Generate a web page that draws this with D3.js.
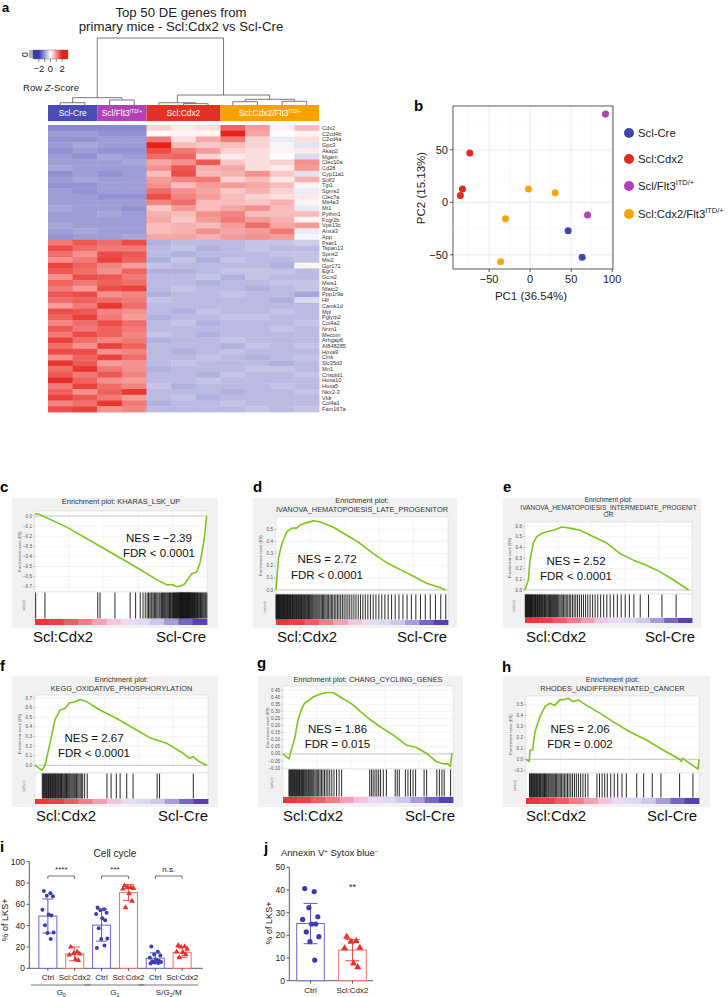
<!DOCTYPE html>
<html><head><meta charset="utf-8">
<script src="https://cdn.jsdelivr.net/npm/d3@7"></script>
<style>
body{margin:0;background:#fff}
svg{display:block}
text{font-family:"Liberation Sans",Arial,Helvetica,sans-serif}
</style></head>
<body><svg id="fig" width="728" height="997"></svg>
<script>
// ================= DATA =================
// Panel a: heatmap
const genes = ["Cdx2","C2cd4b","C2cd4a","Gpc3","Akap2","Mgam","Clec10a","Cd28","Cyp11a1","Sulf2","Tjp1","Sgms2","Clec7a","Ms4a3","Mt1","Pythin1","Fcgr2b","Vps13c","Anxa3","App","Pear1","Tspan13","Spns2","Msi2","Gpr171","Egr1","Gcnt2","Meis1","Nfatc2","Ppp1r9a","Hlf","Camk1d","Mpl","Pglyrp2","Col4a2","Nrxn1","Mecom","Arhgap6","AI848285","Hoxa9","Clnk","Slc35d3","Mn1","Crispld1","Hoxa10","Hoxa5","Nkx2-3","Vldr","Col4a1","Fam167a"];
const groupNames = ["Scl-Cre","Scl/Flt3","Scl:Cdx2","Scl:Cdx2/Flt3"];
const groupSups = ["","ITD/+","","ITD/+"];
const groupSizes = [2,2,3,4];
const heatZ = [
[-1.2,-1.2,-1.2,-1.2,0.4,0.2,0.3,1.4,0.9,0.1,0.6],
[-1.0,-1.0,-1.1,-1.1,0.0,0.1,0.1,2.2,0.8,0.0,0.1],
[-1.1,-1.1,-1.0,-1.0,1.2,0.3,0.8,1.2,0.4,-0.2,0.3],
[-1.0,-0.9,-1.0,-1.0,2.0,0.6,0.5,0.6,0.4,-0.1,-0.3],
[-1.1,-1.0,-1.1,-1.1,1.6,1.2,0.9,0.4,0.3,0.1,0.2],
[-1.0,-1.1,-0.9,-1.0,1.3,1.4,0.4,0.2,0.3,0.0,-0.4],
[-1.0,-1.0,-1.0,-0.9,0.8,1.0,1.5,0.5,0.3,0.4,1.0],
[-0.9,-1.0,-1.0,-1.0,1.0,1.5,0.7,0.8,0.3,0.2,0.9],
[-1.1,-1.0,-1.1,-1.0,0.6,1.6,0.6,0.7,1.0,0.5,-0.3],
[-1.0,-0.9,-1.0,-1.0,0.9,1.1,1.2,0.4,0.6,0.2,0.7],
[-1.1,-1.1,-1.0,-1.0,1.0,0.6,0.9,0.9,0.8,0.6,0.1],
[-1.0,-1.1,-1.0,-1.0,1.3,1.0,0.8,0.5,0.7,0.4,-0.2],
[-1.0,-1.0,-1.1,-1.1,1.6,1.1,0.9,0.6,0.4,0.3,0.2],
[-1.0,-1.0,-1.0,-1.0,1.1,1.3,0.6,0.6,0.5,0.7,0.1],
[-0.9,-1.0,-1.0,-1.1,0.5,0.9,0.6,0.8,1.0,0.6,-0.2],
[-1.0,-1.0,-0.9,-1.0,0.7,0.6,1.0,1.1,0.6,0.6,0.6],
[-1.0,-1.0,-1.0,-1.0,0.8,0.5,0.9,1.2,0.9,0.7,0.1],
[-0.9,-1.0,-1.0,-1.0,0.6,0.7,0.6,0.9,1.3,0.8,0.9],
[-1.0,-0.9,-1.0,-1.0,0.6,0.7,1.0,0.8,0.9,1.2,-0.2],
[-1.1,-1.0,-1.0,-0.9,0.8,0.8,0.7,0.9,1.0,0.9,-0.1],
[1.2,1.5,1.3,1.6,-0.8,-0.7,-0.7,-0.7,-0.6,-0.6,-0.5],
[1.6,1.3,1.2,1.2,-0.7,-0.6,-0.8,-0.7,-0.6,-0.7,-0.7],
[1.3,1.0,1.6,1.5,-0.7,-0.8,-0.7,-0.7,-0.7,-0.6,-0.6],
[1.0,1.2,1.7,1.4,-0.8,-0.6,-0.8,-0.6,-0.7,-0.7,-0.6],
[1.7,1.4,1.1,0.9,-0.6,-0.7,-0.7,-0.7,-0.7,-0.8,0.1],
[1.5,1.3,1.0,1.4,-0.8,-0.8,-0.7,-0.6,-0.6,-0.6,-0.7],
[1.0,1.6,1.5,1.2,-0.7,-0.7,-0.6,-0.8,-0.6,-0.7,-0.7],
[1.4,1.2,1.4,1.3,-0.7,-0.7,-0.8,-0.7,-0.7,-0.6,-0.6],
[1.2,0.9,1.6,1.7,-0.7,-0.6,-0.7,-0.7,-0.8,-0.7,-0.6],
[1.5,1.6,1.0,1.1,-0.8,-0.7,-0.7,-0.6,-0.7,-0.7,-0.9],
[1.3,1.4,1.3,1.2,-0.6,-0.7,-0.7,-0.7,-0.7,-0.8,-0.4],
[0.9,1.2,1.8,1.3,-0.7,-0.7,-0.7,-0.7,-0.7,-0.7,-0.7],
[1.6,1.5,1.1,1.0,-0.7,-0.8,-0.6,-0.7,-0.7,-0.6,-0.7],
[1.4,1.7,1.2,0.9,-0.8,-0.7,-0.7,-0.6,-0.6,-0.7,-0.7],
[1.1,1.3,1.6,1.3,-0.7,-0.6,-0.8,-0.7,-0.7,-0.7,-0.6],
[1.5,1.2,1.4,1.2,-0.7,-0.7,-0.7,-0.7,-0.7,-0.6,-0.7],
[1.2,1.6,1.4,1.1,-0.6,-0.7,-0.8,-0.7,-0.7,-0.7,-0.7],
[1.7,1.3,1.1,1.2,-0.8,-0.7,-0.7,-0.6,-0.7,-0.7,-0.7],
[1.3,1.0,1.7,1.4,-0.7,-0.7,-0.7,-0.8,-0.6,-0.7,-0.6],
[1.6,1.6,1.0,1.1,-0.7,-0.8,-0.7,-0.6,-0.7,-0.7,-0.7],
[1.0,1.4,1.7,1.3,-0.7,-0.7,-0.6,-0.7,-0.8,-0.7,-0.6],
[1.8,1.5,0.9,1.0,-0.7,-0.6,-0.7,-0.7,-0.7,-0.8,-0.7],
[1.3,1.8,1.2,1.0,-0.8,-0.7,-0.7,-0.7,-0.6,-0.6,-0.7],
[1.5,1.2,1.5,1.1,-0.7,-0.7,-0.8,-0.6,-0.7,-0.7,-0.6],
[1.9,1.4,1.0,0.9,-0.7,-0.7,-0.6,-0.7,-0.7,-0.7,-0.7],
[1.2,1.7,1.3,1.1,-0.6,-0.8,-0.7,-0.7,-0.7,-0.6,-0.7],
[1.4,1.0,1.4,1.8,-0.7,-0.7,-0.7,-0.8,-0.7,-0.7,-0.6],
[1.7,1.5,1.2,0.9,-0.7,-0.6,-0.8,-0.7,-0.7,-0.7,-0.7],
[1.1,1.3,1.8,1.2,-0.8,-0.7,-0.7,-0.6,-0.7,-0.7,-0.7],
[1.6,1.7,1.0,1.1,-0.7,-0.7,-0.7,-0.7,-0.6,-0.7,-0.6]];
// column dendrogram (merge heights, 0..1)
const dendroTree = {h:1.0, children:[
  {h:0.109, children:[{h:0.034, children:[{leaf:0},{leaf:1}]},{h:0.075, children:[{leaf:2},{leaf:3}]}]},
  {h:0.149, children:[
    {h:0.034, children:[{leaf:4},{h:0.02, children:[{leaf:5},{leaf:6}]}]},
    {h:0.085, children:[{h:0.05, children:[{leaf:7},{leaf:8}]},{h:0.055, children:[{leaf:9},{leaf:10}]}]}]}]};
const keyTicks = [-2,0,2];

// Panel b: PCA
const pcaGroups = ["Scl-Cre","Scl:Cdx2","Scl/Flt3","Scl:Cdx2/Flt3"];
const pcaSups = ["","","ITD/+","ITD/+"];
const pcaGroup = [2,2,1,1,1,3,3,3,3,0,0];
const pc1 = [91.8,70,-73.5,-82.5,-85,-2,30.5,-30,-36,46.3,63.4];
const pc2 = [84,-12,47,12.7,6.6,12.6,9.2,-15.6,-56.5,-27,-52.4];
const pcaXTicks = [-50,0,50,100];
const pcaYTicks = [-50,0,50];

// Panels c-h: GSEA running enrichment scores [rank fraction, ES]
const esC = [[0,0.02],[0.02,0.02],[0.184,-0.11],[0.378,-0.30],[0.572,-0.49],[0.707,-0.63],[0.766,-0.68],[0.80,-0.68],[0.824,-0.70],[0.85,-0.69],[0.872,-0.67],[0.91,-0.575],[0.94,-0.555],[0.96,-0.46],[0.983,-0.24],[0.998,0.0]];
const esD = [[0,0],[0.015,0.27],[0.035,0.385],[0.064,0.48],[0.093,0.51],[0.12,0.51],[0.14,0.535],[0.18,0.555],[0.218,0.57],[0.257,0.56],[0.334,0.517],[0.41,0.453],[0.488,0.385],[0.566,0.30],[0.643,0.225],[0.72,0.17],[0.797,0.115],[0.875,0.055],[0.952,0.02],[0.986,0.0]];
const esE = [[0,0],[0.02,0.094],[0.03,0.28],[0.05,0.44],[0.07,0.50],[0.10,0.53],[0.13,0.546],[0.17,0.56],[0.22,0.59],[0.27,0.58],[0.33,0.56],[0.41,0.50],[0.49,0.44],[0.57,0.34],[0.65,0.28],[0.73,0.23],[0.81,0.17],[0.89,0.094],[0.98,0.0]];
const esF = [[0,0],[0.04,-0.05],[0.058,0.0],[0.087,0.23],[0.115,0.47],[0.144,0.575],[0.173,0.59],[0.2,0.65],[0.23,0.66],[0.26,0.685],[0.3,0.66],[0.375,0.575],[0.47,0.49],[0.57,0.385],[0.66,0.29],[0.76,0.23],[0.856,0.125],[0.894,0.073],[0.913,0.09],[0.95,0.037],[0.994,0.0]];
const esG = [[0,0],[0.035,-0.035],[0.049,0.028],[0.069,0.11],[0.088,0.24],[0.108,0.31],[0.127,0.357],[0.157,0.38],[0.176,0.40],[0.206,0.415],[0.235,0.427],[0.265,0.432],[0.294,0.432],[0.333,0.404],[0.412,0.345],[0.49,0.263],[0.569,0.193],[0.647,0.134],[0.725,0.063],[0.784,0.045],[0.843,0.005],[0.902,-0.054],[0.94,-0.07],[0.97,-0.07],[0.984,-0.089],[0.994,0.005]];
const esH = [[0,0],[0.019,-0.02],[0.023,0.085],[0.038,0.085],[0.052,0.25],[0.081,0.39],[0.11,0.48],[0.138,0.51],[0.167,0.49],[0.196,0.54],[0.225,0.545],[0.244,0.555],[0.273,0.525],[0.302,0.54],[0.35,0.49],[0.427,0.42],[0.504,0.34],[0.6,0.25],[0.696,0.175],[0.792,0.085],[0.888,0.0],[0.898,-0.02],[0.904,0.01],[0.994,-0.09],[1.0,0.0]];
// gene-set hit positions in the ranked list (0..1000)
const hitsC = [4,58,365,378,465,553,585,612,628,641,652,660,668,675,680,687,694,700,708,715,722,728,736,741,746,752,757,762,768,773,778,782,787,791,796,800,805,809,812,815,818,822,825,828,832,835,838,841,843,846,848,851,853,856,858,861,863,866,868,871,873,876,878,881,884,887,889,892,894,897,899,902,905,908,911,914,917,920,923,927,930,934,937,941,945,949,953,958,962,967,972,977,982,988,993,999];
const hitsD = [0,3,6,9,12,15,18,21,24,27,31,34,37,40,44,47,50,54,57,60,64,67,71,74,78,81,85,88,92,96,99,103,107,111,115,119,123,127,131,135,139,143,148,152,156,161,165,170,174,179,184,189,194,199,204,209,214,220,226,232,238,244,250,256,263,270,277,284,291,298,306,314,322,330,339,348,357,366,376,386,396,407,418,429,441,453,465,478,491,505,519,534,549,565,581,598,615,633,652,672,693,715,738,762,787,813,840,868,897,927,958,987];
const hitsE = [2,5,8,11,14,17,20,23,26,29,33,36,39,42,46,49,53,56,60,63,67,71,75,79,83,87,91,95,99,104,108,113,117,122,127,132,137,142,147,153,158,164,170,176,182,188,195,202,209,216,223,231,239,247,256,265,274,284,294,304,315,326,338,350,363,376,390,405,420,436,453,471,490,510,531,553,576,600,625,652,690,740,820,905];
const hitsF = [42,46,50,54,58,62,66,70,74,78,82,86,90,94,98,102,106,110,114,118,122,126,131,135,139,144,148,153,157,162,167,172,177,182,187,192,198,203,209,215,221,227,233,240,247,254,261,268,276,287,302,416,440,470,492,530,567,706,720,915];
const hitsG = [35,39,43,47,51,55,59,63,67,71,75,79,84,88,92,97,101,106,110,115,120,125,130,135,140,146,151,157,163,169,175,181,188,195,202,210,218,226,235,244,254,264,275,287,300,315,330,345,510,520,530,541,552,563,574,590,608,660,672,684,720,735,750,765,780,830,845,905,920,935,948,986];
const hitsH = [20,24,28,32,36,40,44,48,52,56,61,65,69,74,78,83,87,92,97,102,107,112,117,122,128,133,139,145,151,157,163,170,177,184,191,198,206,214,222,231,240,249,259,269,280,291,303,316,329,343,358,410,425,440,455,470,490,510,530,555,580,640,680,730,780,888,965];
const rankColors = ["#e8373a","#ea4146","#ee5d66","#f27d87","#f5a0b4","#f2c4de","#e8daf0","#dcd9f2","#cdc8ee","#a79ddc","#7865c6","#5a3fb2"];
const nesText = [["NES = \u22122.39","FDR < 0.0001"],["NES = 2.72","FDR < 0.0001"],["NES = 2.52","FDR < 0.0001"],["NES = 2.67","FDR < 0.0001"],["NES = 1.86","FDR = 0.015"],["NES = 2.06","FDR = 0.002"]];
const gseaTitles = [["Enrichment plot: KHARAS_LSK_UP"],["Enrichment plot:","IVANOVA_HEMATOPOIESIS_LATE_PROGENITOR"],["Enrichment plot:","IVANOVA_HEMATOPOIESIS_INTERMEDIATE_PROGENIT","OR"],["Enrichment plot:","KEGG_OXIDATIVE_PHOSPHORYLATION"],["Enrichment plot: CHANG_CYCLING_GENES"],["Enrichment plot:","RHODES_UNDIFFERENTIATED_CANCER"]];
const phenoLabels = ["Scl:Cdx2","Scl-Cre"];

// Panel i: cell cycle
const cellBarLabels = ["Ctrl","Scl:Cdx2","Ctrl","Scl:Cdx2","Ctrl","Scl:Cdx2"];
const cellPhases = [["G","0"],["G","1"],["S/G","2","/M"]];
const cellMeans = [49,13.5,40.5,71,9.5,15];
const cellSD = [16,6.5,15,7.5,5,4.6];
const cellPoints = [
 [72.5,70.5,68,67.5,55,50.5,49.5,40.5,33.5,33,27.5],
 [20,15.5,14,13.5,12.5,8.5,7.5],
 [57,55.5,54.5,52,51,47,45,37.5,28,27.5,21.5,19],
 [77.5,76,76,75,74.5,70,63,57],
 [20.5,15.5,13,12,10,8,7,6.5,6,5.5,5,4.5],
 [21.5,20.5,20,18,15.5,15,13,10]];
const cellSig = ["****","***","n.s."];
const cellYTicks = [0,20,40,60,80,100];

// Panel j: annexin
const annexLabels = ["Ctrl","Scl:Cdx2"];
const annexMeans = [25.2,13.5];
const annexSD = [8.9,4.7];
const annexPoints = [[40.6,39.3,32.2,28.2,27,25,25,21.5,19.4,17.2,9.1],[19.4,17.5,17.2,14.5,14.3,7.6,6]];
const annexYTicks = [0,10,20,30,40,50];

// ================= DRAW =================
const svg = d3.select("#fig");
function T(parent, x, y, s, size, o) {
  o = o || {};
  const t = parent.append("text").attr("x", x).attr("y", y).attr("font-size", size).attr("fill", o.fill || "#111").text(s);
  if (o.anchor) t.attr("text-anchor", o.anchor);
  if (o.weight) t.attr("font-weight", o.weight);
  if (o.rotate) t.attr("transform", `rotate(${o.rotate},${x},${y})`);
  return t;
}
function sup(t, s, size, dy) {
  if (!s) return;
  t.append("tspan").attr("font-size", size).attr("dy", dy).text(s);
}
// panel letters
[["a",2,12,13],["b",414,111,15],["c",0,492,15],["d",253,492,15],["e",503,492,15],["f",0,671,15],["g",257,668,15],["h",502,672,15],["i",0,852,15],["j",264,853,15]]
 .forEach(d => T(svg, d[1], d[2], d[0], d[3], {weight:"bold", fill:"#000"}));

// ---------- Panel a ----------
{
  const g = svg.append("g");
  T(g, 181, 17, "Top 50 DE genes from", 13.2, {anchor:"middle", fill:"#222"});
  T(g, 181, 31, "primary mice - Scl:Cdx2 vs Scl-Cre", 13.2, {anchor:"middle", fill:"#222"});
  const hx = d3.scaleBand().domain(d3.range(11)).range([48, 319]);
  const hy = d3.scaleBand().domain(genes).range([125, 412]);
  const zColor = d3.scaleLinear().domain([-2,0,2]).range(["#3b3bb0","#ffffff","#e8201a"]).clamp(true);
  heatZ.forEach((row, r) => row.forEach((z, c) => {
    g.append("rect").attr("x", hx(c)).attr("y", hy(genes[r])).attr("width", hx.bandwidth()+0.4).attr("height", hy.bandwidth()+0.4).attr("fill", zColor(z));
  }));
  genes.forEach(gn => T(g, 322, hy(gn)+hy.bandwidth()/2+2, gn, 5.6, {fill:"#333"}));
  // group bar
  let start = 0;
  const groupFill = ["#4a4db0","#b242b4","#e13122","#f6a300"];
  groupSizes.forEach((n, i) => {
    const x0 = hx(start), x1 = hx(start+n-1)+hx.bandwidth();
    g.append("rect").attr("x", x0).attr("y", 105).attr("width", x1-x0).attr("height", 16).attr("fill", groupFill[i]);
    const t = T(g, (x0+x1)/2, 116, groupNames[i], 8.4, {anchor:"middle", fill:"#fff"});
    sup(t, groupSups[i], 5, -3);
    start += n;
  });
  // dendrogram
  const dy = d3.scaleLinear().domain([0,1]).range([105, 38]);
  const root = d3.hierarchy(dendroTree);
  root.eachAfter(n => {
    if (!n.children) { n.px = hx(n.data.leaf)+hx.bandwidth()/2; n.py = 105; }
    else { n.px = d3.mean(n.children, c => c.px); n.py = dy(n.data.h); }
  });
  root.each(n => {
    if (!n.children) return;
    const [a, b] = n.children;
    g.append("path").attr("d", `M${a.px},${a.py}V${n.py}H${b.px}V${b.py}`).attr("fill","none").attr("stroke","#555").attr("stroke-width",0.8);
  });
  // color key
  const kx = d3.scaleLinear().domain([-3,3]).range([33, 68]);
  const grad = svg.append("defs").append("linearGradient").attr("id","kg");
  d3.range(-3, 3.01, 0.5).forEach(v => grad.append("stop").attr("offset", (v+3)/6).attr("stop-color", zColor(v)));
  g.append("rect").attr("x", 33).attr("y", 50).attr("width", 35).attr("height", 9).attr("fill","url(#kg)").attr("stroke","#666").attr("stroke-width",0.4);
  [-2,-1,0,1,2].forEach(v => g.append("line").attr("x1",kx(v)).attr("x2",kx(v)).attr("y1",59).attr("y2",62).attr("stroke","#444").attr("stroke-width",0.6));
  keyTicks.forEach(v => T(g, kx(v), 72, v < 0 ? "\u2212" + Math.abs(v) : String(v), 9.5, {anchor:"middle", fill:"#222"}));
  [51,53,55,57].forEach(y => g.append("line").attr("x1",29).attr("x2",33).attr("y1",y).attr("y2",y).attr("stroke","#444").attr("stroke-width",0.8));
  T(g, 22, 54.5, "0", 8.5, {anchor:"middle", rotate:90, fill:"#222"});
  const rz = T(g, 23, 91, "Row ", 9.6, {fill:"#222"});
  rz.append("tspan").attr("font-style","italic").text("Z");
  rz.append("tspan").text("-Score");
}

// ---------- Panel b ----------
{
  const g = svg.append("g");
  const cols = ["#3e48a8","#e02b20","#b43fb8","#f6a40a"];
  const x = d3.scaleLinear().domain([-94,101]).range([453, 613]);
  const y = d3.scaleLinear().domain([-63.5,91.7]).range([269, 106]);
  g.append("rect").attr("x",453).attr("y",106).attr("width",160).attr("height",163).attr("fill","#fff");
  [-75,-25,25,75].forEach(v => g.append("line").attr("x1",x(v)).attr("x2",x(v)).attr("y1",106).attr("y2",269).attr("stroke","#f3f3f3").attr("stroke-width",0.6));
  [-25,25,75].forEach(v => g.append("line").attr("x1",453).attr("x2",613).attr("y1",y(v)).attr("y2",y(v)).attr("stroke","#f3f3f3").attr("stroke-width",0.6));
  pcaXTicks.forEach(v => g.append("line").attr("x1",x(v)).attr("x2",x(v)).attr("y1",106).attr("y2",269).attr("stroke","#e6e6e6").attr("stroke-width",0.8));
  pcaYTicks.forEach(v => g.append("line").attr("x1",453).attr("x2",613).attr("y1",y(v)).attr("y2",y(v)).attr("stroke","#e6e6e6").attr("stroke-width",0.8));
  g.append("rect").attr("x",453).attr("y",106).attr("width",160).attr("height",163).attr("fill","none").attr("stroke","#333").attr("stroke-width",0.8);
  const fmt = v => v < 0 ? "\u2212" + Math.abs(v) : String(v);
  pcaXTicks.forEach(v => { g.append("line").attr("x1",x(v)).attr("x2",x(v)).attr("y1",269).attr("y2",272).attr("stroke","#333").attr("stroke-width",0.8);
    T(g, x(v), 283, fmt(v), 11, {anchor:"middle", fill:"#222"}); });
  pcaYTicks.forEach(v => { g.append("line").attr("x1",450).attr("x2",453).attr("y1",y(v)).attr("y2",y(v)).attr("stroke","#333").attr("stroke-width",0.8);
    T(g, 448, y(v)+4, fmt(v), 11, {anchor:"end", fill:"#222"}); });
  T(g, 531, 300, "PC1 (36.54%)", 11.5, {anchor:"middle", fill:"#222"});
  T(g, 425, 188, "PC2 (15.13%)", 11.5, {anchor:"middle", rotate:-90, fill:"#222"});
  pc1.forEach((v, i) => g.append("circle").attr("cx", x(v)).attr("cy", y(pc2[i])).attr("r", 3.5).attr("fill", cols[pcaGroup[i]]));
  const ly = [133,159,186,214];
  pcaGroups.forEach((nm, i) => {
    g.append("circle").attr("cx", 629).attr("cy", ly[i]).attr("r", 5).attr("fill", cols[i]);
    const t = T(g, 638, ly[i]+4, nm, 11.3, {fill:"#222"});
    sup(t, pcaSups[i], 7.5, -5);
  });
}

// ---------- Panels c-h ----------
const gseaLayout = [
  {es:esC, hits:hitsC, box:[12,498,218,628], plot:[35,511,207,592], titleY:[504], ts:7.4, esRef:[0,-0.7], esPix:[516,586.7], ticks:d3.range(0,-0.71,-0.1), dig:1, barY:619, barH:6, lab:[33,206,642], nes:[159,542,557]},
  {es:esD, hits:hitsD, box:[253,498,457,628], plot:[276,517,448,594], titleY:[503,512], ts:7.4, esRef:[0,0.5], esPix:[590,529.3], ticks:d3.range(0,0.51,0.1), dig:1, barY:620, barH:5, lab:[277,447,642], nes:[327,563,579]},
  {es:esE, hits:hitsE, box:[503,498,701,628], plot:[525,522,692,594], titleY:[502,510,517], ts:6.6, esRef:[0,0.6], esPix:[590,526], ticks:d3.range(0,0.61,0.1), dig:1, barY:618, barH:5, lab:[526,695,642], nes:[576,565,580]},
  {es:esF, hits:hitsF, box:[12,676,218,807], plot:[35,695,208,773], titleY:[682,691], ts:7.4, esRef:[0,0.7], esPix:[765.3,698], ticks:d3.range(0,0.71,0.1), dig:1, barY:799, barH:5, lab:[36,208,821], nes:[94,741.5,757]},
  {es:esG, hits:hitsG, box:[258,676,463,807], plot:[283,686,453,769], titleY:[682], ts:7.4, esRef:[0,0.45], esPix:[753.9,690], ticks:d3.range(-0.1,0.451,0.05), dig:2, barY:797, barH:6, lab:[283,455,821], nes:[337.5,732.5,748]},
  {es:esH, hits:hitsH, box:[503,676,710,807], plot:[526,696,699,773], titleY:[682,691], ts:7.4, esRef:[0,0.5], esPix:[759.3,704.3], ticks:d3.range(-0.1,0.51,0.1), dig:1, barY:798, barH:6, lab:[526,697,821], nes:[580,732.5,747.5]}];

gseaLayout.forEach((p, k) => {
  const g = svg.append("g");
  const [bx0,by0,bx1,by1] = p.box;
  const [px0,py0,px1,py1] = p.plot;
  g.append("rect").attr("x",bx0).attr("y",by0).attr("width",bx1-bx0).attr("height",by1-by0).attr("fill","#f1f1f1");
  gseaTitles[k].forEach((t, i) => T(g, (px0+px1)/2, p.titleY[i], t, p.ts, {anchor:"middle", fill:"#333"}));
  const x = d3.scaleLinear().domain([0,1]).range([px0, px1]);
  const y = d3.scaleLinear().domain(p.esRef).range(p.esPix);
  g.append("rect").attr("x",px0).attr("y",py0).attr("width",px1-px0).attr("height",py1-py0).attr("fill","#fff").attr("stroke","#d4d4d4").attr("stroke-width",0.5);
  [0.2,0.4,0.6,0.8].forEach(f => g.append("line").attr("x1",x(f)).attr("x2",x(f)).attr("y1",py0).attr("y2",py1).attr("stroke","#ececec").attr("stroke-width",0.6));
  p.ticks.forEach(t => {
    g.append("line").attr("x1",px0).attr("x2",px1).attr("y1",y(t)).attr("y2",y(t)).attr("stroke","#ededed").attr("stroke-width",0.6);
    g.append("line").attr("x1",px0-2).attr("x2",px0).attr("y1",y(t)).attr("y2",y(t)).attr("stroke","#999").attr("stroke-width",0.5);
    const v = Math.abs(t) < 1e-9 ? 0 : t;
    T(g, px0-3, y(t)+1.5, (v < 0 ? "\u2212" : "") + Math.abs(v).toFixed(p.dig), 4.6, {anchor:"end", fill:"#555"});
  });
  g.append("line").attr("x1",px0).attr("x2",px1).attr("y1",y(0)).attr("y2",y(0)).attr("stroke","#b5b5b5").attr("stroke-width",0.7);
  T(g, px0-14, (py0+py1)/2, "Enrichment score (ES)", 4, {anchor:"middle", rotate:-90, fill:"#555"});
  g.append("path").datum(p.es).attr("d", d3.line().x(d => x(d[0])).y(d => y(d[1]))).attr("fill","none").attr("stroke","#7cc51e").attr("stroke-width",1.6).attr("stroke-linejoin","round");
  const hx = d3.scaleLinear().domain([0,1000]).range([px0, px1]);
  g.append("rect").attr("x",px0).attr("y",py1).attr("width",px1-px0).attr("height",p.barY-py1).attr("fill","#fff").attr("stroke","#d4d4d4").attr("stroke-width",0.5);
  g.selectAll(null).data(p.hits).join("line").attr("x1",d => hx(d)).attr("x2",d => hx(d)).attr("y1",py1+0.5).attr("y2",p.barY-0.5).attr("stroke","#111").attr("stroke-width",0.9);
  T(g, px0-10, (py1+p.barY)/2, "(value)", 3.8, {anchor:"middle", rotate:-90, fill:"#777"});
  const rb = d3.scaleBand().domain(d3.range(rankColors.length)).range([px0, px1]);
  rankColors.forEach((c, i) => g.append("rect").attr("x", rb(i)).attr("y", p.barY).attr("width", rb.bandwidth()+0.4).attr("height", p.barH).attr("fill", c));
  T(g, p.lab[0], p.lab[2], phenoLabels[0], 15, {fill:"#111"});
  T(g, p.lab[1], p.lab[2], phenoLabels[1], 15, {anchor:"end", fill:"#111"});
  T(g, p.nes[0], p.nes[1], nesText[k][0], 11.5, {anchor:"middle", fill:"#111"});
  T(g, p.nes[0], p.nes[2], nesText[k][1], 11.5, {anchor:"middle", fill:"#111"});
});

// ---------- Panel i ----------
const blueDot = "#3b3bb0", redTri = "#e8302a", blueBar = "#6a6ad0", redBar = "#f26c6c";
const jit = [-0.55,0.35,-0.15,0.7,-0.75,0.1,0.5,-0.4,0.8,-0.05,0.4,-0.65];
{
  const g = svg.append("g");
  const y = d3.scaleLinear().domain([0,100]).range([968.3, 861.7]);
  const x = d3.scaleBand().domain(d3.range(6)).range([30, 200]).padding(0.33);
  T(g, 115, 857, "Cell cycle", 10, {anchor:"middle", fill:"#222"});
  g.append("line").attr("x1",29.3).attr("x2",29.3).attr("y1",861.7).attr("y2",968.3).attr("stroke","#333").attr("stroke-width",0.8);
  g.append("line").attr("x1",29.3).attr("x2",203).attr("y1",968.3).attr("y2",968.3).attr("stroke","#333").attr("stroke-width",0.8);
  cellYTicks.forEach(v => { g.append("line").attr("x1",26.5).attr("x2",29.3).attr("y1",y(v)).attr("y2",y(v)).attr("stroke","#333").attr("stroke-width",0.8);
    T(g, 25, y(v)+3, String(v), 8.5, {anchor:"end", fill:"#222"}); });
  T(g, 8, 920, "% of LKS+", 9, {anchor:"middle", rotate:-90, fill:"#222"});
  cellMeans.forEach((m, i) => {
    const isC = i % 2 === 0;
    const cx = x(i) + x.bandwidth()/2;
    g.append("rect").attr("x", x(i)).attr("y", y(m)).attr("width", x.bandwidth()).attr("height", y(0)-y(m)).attr("fill","#fff").attr("stroke", isC ? blueBar : redBar).attr("stroke-width",1);
    g.append("line").attr("x1",cx).attr("x2",cx).attr("y1",968.3).attr("y2",971).attr("stroke","#333").attr("stroke-width",0.8);
    cellPoints[i].forEach((v, j) => {
      const px = cx + jit[j % jit.length] * x.bandwidth()*0.4;
      if (isC) g.append("circle").attr("cx", px).attr("cy", y(v)).attr("r", 2).attr("fill", blueDot);
      else g.append("path").attr("d", d3.symbol().type(d3.symbolTriangle).size(14)()).attr("transform", `translate(${px},${y(v)})`).attr("fill", redTri);
    });
    const col = isC ? "#4646b8" : "#e83838";
    const lo = y(m - cellSD[i]), hi = y(m + cellSD[i]);
    g.append("line").attr("x1",cx).attr("x2",cx).attr("y1",lo).attr("y2",hi).attr("stroke",col).attr("stroke-width",0.9);
    [lo, hi].forEach(yy => g.append("line").attr("x1",cx-5.5).attr("x2",cx+5.5).attr("y1",yy).attr("y2",yy).attr("stroke",col).attr("stroke-width",0.9));
    T(g, cx, 980, cellBarLabels[i], 8, {anchor:"middle", fill:"#222"});
  });
  cellSig.forEach((s, k) => {
    const a = x(2*k)+x.bandwidth()/2, b = x(2*k+1)+x.bandwidth()/2;
    g.append("path").attr("d", `M${a},879V876H${b}V879`).attr("fill","none").attr("stroke","#333").attr("stroke-width",0.7);
    T(g, (a+b)/2, 872, s, 8, {anchor:"middle", fill:"#222"});
    const l0 = x(2*k) - 8, l1 = x(2*k+1) + x.bandwidth() + 7;
    g.append("line").attr("x1",l0).attr("x2",l1).attr("y1",985).attr("y2",985).attr("stroke","#555").attr("stroke-width",0.8);
    const ph = cellPhases[k];
    const t = T(g, (a+b)/2, 995, ph[0], 8, {anchor:"middle", fill:"#222"});
    t.append("tspan").attr("font-size",5.5).attr("dy",1.5).text(ph[1]);
    if (ph[2]) t.append("tspan").attr("font-size",8).attr("dy",-1.5).text(ph[2]);
  });
}

// ---------- Panel j ----------
{
  const g = svg.append("g");
  const y = d3.scaleLinear().domain([0,50]).range([980.7, 867.3]);
  const x = d3.scalePoint().domain(annexLabels).range([289.3, 373.7]).padding(0.505);
  const bw = 27.6;
  const tt = T(g, 281, 856, "Annexin V", 9.5, {fill:"#222"});
  tt.append("tspan").attr("font-size",6).attr("dy",-3.5).text("+");
  tt.append("tspan").attr("dy",3.5).text(" Sytox blue");
  tt.append("tspan").attr("font-size",6).attr("dy",-3.5).text("\u2212");
  g.append("line").attr("x1",289.3).attr("x2",289.3).attr("y1",867.3).attr("y2",980.7).attr("stroke","#333").attr("stroke-width",0.8);
  g.append("line").attr("x1",289.3).attr("x2",373).attr("y1",980.7).attr("y2",980.7).attr("stroke","#333").attr("stroke-width",0.8);
  annexYTicks.forEach(v => { g.append("line").attr("x1",286.5).attr("x2",289.3).attr("y1",y(v)).attr("y2",y(v)).attr("stroke","#333").attr("stroke-width",0.8);
    T(g, 285, y(v)+3, String(v), 8.5, {anchor:"end", fill:"#222"}); });
  T(g, 272, 923, "% of LKS+", 9, {anchor:"middle", rotate:-90, fill:"#222"});
  annexLabels.forEach((lab, i) => {
    const isC = i === 0, cx = x(lab), m = annexMeans[i];
    g.append("rect").attr("x", cx-bw/2).attr("y", y(m)).attr("width", bw).attr("height", y(0)-y(m)).attr("fill","#fff").attr("stroke", isC ? blueBar : redBar).attr("stroke-width",1);
    g.append("line").attr("x1",cx).attr("x2",cx).attr("y1",980.7).attr("y2",983.5).attr("stroke","#333").attr("stroke-width",0.8);
    annexPoints[i].forEach((v, j) => {
      const px = cx + jit[j % jit.length] * bw*0.38;
      if (isC) g.append("circle").attr("cx", px).attr("cy", y(v)).attr("r", 2.6).attr("fill", blueDot);
      else g.append("path").attr("d", d3.symbol().type(d3.symbolTriangle).size(22)()).attr("transform", `translate(${px},${y(v)})`).attr("fill", redTri);
    });
    const col = isC ? "#4646b8" : "#e83838";
    const lo = y(m - annexSD[i]), hi = y(m + annexSD[i]);
    g.append("line").attr("x1",cx).attr("x2",cx).attr("y1",lo).attr("y2",hi).attr("stroke",col).attr("stroke-width",0.9);
    [lo, hi].forEach(yy => g.append("line").attr("x1",cx-7).attr("x2",cx+7).attr("y1",yy).attr("y2",yy).attr("stroke",col).attr("stroke-width",0.9));
    T(g, cx, 993, lab, 8, {anchor:"middle", fill:"#222"});
  });
  T(g, x(annexLabels[1]), 890, "**", 9, {anchor:"middle", fill:"#222"});
}
</script>
</body></html>
